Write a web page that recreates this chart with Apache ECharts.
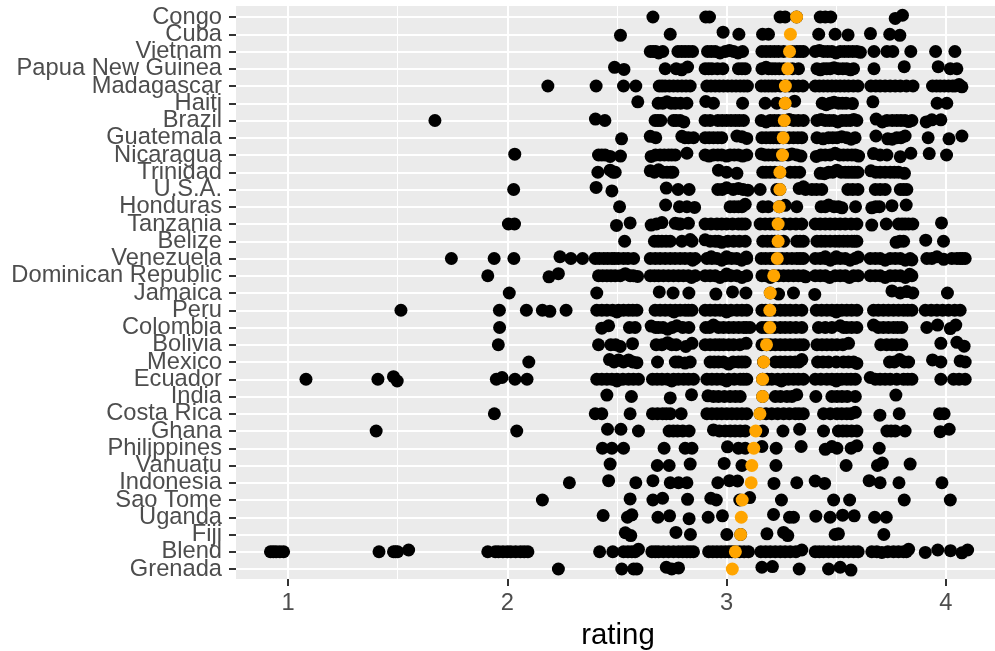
<!DOCTYPE html>
<html><head><meta charset="utf-8">
<style>html,body{margin:0;padding:0;background:#fff}#c{width:995px;height:651px}</style>
<script src="https://cdn.jsdelivr.net/npm/echarts@6/dist/echarts.min.js"></script>
</head><body><div id="c"></div>
<script>
const countries = ["Congo","Cuba","Vietnam","Papua New Guinea","Madagascar","Haiti","Brazil","Guatemala","Nicaragua","Trinidad","U.S.A.","Honduras","Tanzania","Belize","Venezuela","Dominican Republic","Jamaica","Peru","Colombia","Bolivia","Mexico","Ecuador","India","Costa Rica","Ghana","Philippines","Vanuatu","Indonesia","Sao Tome","Uganda","Fiji","Blend","Grenada"];
const xTickLabels = [1,2,3,4];
const xMinorTicks = [1.5,2.5,3.5];
const evenRows = [0,2,4,6,8,10,12,14,16,18,20,22,24,26,28,30,32];
const oddRows = [1,3,5,7,9,11,13,15,17,19,21,23,25,27,29,31];
const meanRating = [3.319,3.291,3.287,3.279,3.268,3.267,3.263,3.258,3.255,3.243,3.243,3.24,3.235,3.235,3.231,3.215,3.199,3.197,3.197,3.182,3.169,3.164,3.164,3.152,3.133,3.124,3.115,3.112,3.071,3.067,3.064,3.04,3.026];
// Each entry: rating, or [rating, vertical jitter in rows]
const congo = [2.664,2.905,2.922,3.244,3.267,3.319,3.427,3.45,3.475,[3.769,.08],[3.802,-.1]];
const cuba = [[2.516,.06],2.743,[2.984,-.12],3.056,3.164,3.191,3.42,3.495,[3.554,.04],[3.656,-.04],3.744,[3.79,.06]];
const vietnam = [2.652,2.677,2.709,2.778,2.811,2.845,2.913,2.948,2.994,3.032,3.073,3.161,3.199,3.237,3.32,3.35,3.404,3.442,3.48,3.518,3.556,3.594,3.672,3.731,3.758,3.84,3.953,4.041,
  2.665,[2.69,.08],2.795,2.828,2.93,[2.97,.08],[3.013,-.06],[3.052,.08],3.18,3.218,3.26,3.3,3.335,[3.423,-.06],3.461,[3.499,.08],3.537,3.575,[3.61,.05]];
const png = [[2.489,-.08],[2.532,.04],2.72,2.77,[2.822,-.1],2.902,2.933,2.983,3.054,3.085,3.161,3.191,3.222,3.328,3.412,3.442,3.472,3.51,3.548,3.579,3.672,[3.81,-.12],[3.965,-.12],4.02,4.05,
  [2.795,.06],2.918,2.958,3.07,[3.18,-.08],3.207,3.24,3.26,3.3,[3.427,.06],3.457,[3.49,-.06],3.53,[3.565,.06]];
const madagascar = [2.185,2.405,2.53,2.586,2.693,2.72,2.758,2.796,2.834,2.91,2.948,2.986,3.024,3.062,3.095,3.158,3.191,3.222,3.267,3.305,3.348,3.404,3.442,3.48,3.518,3.556,3.599,3.658,3.7,3.746,3.792,3.85,3.939,3.974,4.012,4.042,[4.073,.05],
  2.706,2.739,2.777,2.815,2.929,2.967,3.005,3.043,3.079,3.175,3.207,3.245,3.286,3.327,3.423,3.461,3.499,3.537,3.578,3.68,3.723,3.769,3.82,3.957,3.993,4.03,[4.06,-.08]];
const haiti = [[2.595,-.08],2.688,[2.728,-.08],2.766,2.819,[2.905,-.1],2.94,3.073,3.176,3.229,3.267,[3.31,-.12],3.436,3.472,3.51,3.545,[3.574,.02],[3.667,-.08],3.96,4.004,
  2.709,2.747,2.79,[3.454,.08],[3.49,-.06],3.528];
const brazil = [[2.402,-.08],2.445,2.674,2.7,2.758,2.788,[2.805,.08],2.902,2.96,3,3.04,3.077,3.158,3.199,3.237,3.263,3.305,3.35,3.412,3.45,3.488,3.526,3.564,3.594,[3.682,-.08],3.731,3.776,3.814,3.845,[3.91,.08],[3.936,-.04],[3.977,-.04],1.67,
  2.687,2.77,2.925,2.98,3.02,3.058,[3.18,.08],3.218,[3.285,-.06],3.327,[3.431,-.06],3.469,[3.507,.08],3.545,[3.58,-.06],[3.71,.08],3.755,3.795,[3.83,.06]];
const guatemala = [[2.521,.06],[2.652,-.08],2.677,[2.796,-.08],2.826,2.849,2.902,2.94,2.978,[3.047,-.1],[3.092,.04],3.161,3.199,3.229,3.258,3.305,3.343,3.412,3.465,3.503,3.548,3.586,[3.681,-.1],[3.735,.06],3.776,[3.814,-.1],3.919,[4.014,.06],[4.073,-.1],
  2.81,2.921,2.96,[3.07,-.06],3.18,3.214,3.24,3.285,3.325,[3.44,.06],3.484,[3.525,-.06],[3.568,.08],[3.755,.08],3.795];
const nicaragua = [[2.034,-.05],2.416,2.446,[2.469,.08],[2.516,.06],[2.656,.08],2.697,2.735,2.766,[2.819,-.1],2.902,2.94,2.978,3.016,3.054,3.092,[3.158,-.06],3.191,3.229,3.255,[3.298,-.06],[3.339,.06],[3.409,.08],3.45,[3.495,-.1],3.533,3.571,[3.602,.06],[3.67,-.08],3.731,[3.792,.1],[3.84,-.1],[3.924,-.08],4.003,
  2.431,2.676,2.716,2.75,[2.92,.06],2.96,[3,.06],3.035,[3.073,.06],3.175,3.21,3.242,3.28,3.32,3.43,3.472,3.515,3.552,3.587,3.7];
const trinidad = [2.413,[2.469,-.12],2.492,[2.652,-.08],[2.69,-.14],2.728,2.755,[2.963,-.12],3,[3.047,.06],3.165,3.199,3.243,3.29,3.333,[3.427,.06],3.465,[3.503,-.12],3.541,3.571,3.599,[3.658,-.08],3.7,3.746,3.784,[3.811,.06],
  2.482,2.671,2.71,2.745,3.18,3.22,3.312,[3.446,.08],3.484,3.522,3.556,3.585,3.68,3.723,3.765];
const usa = [[2.405,-.12],[2.477,.08],[2.725,-.08],2.779,2.829,2.96,[3,-.1],[3.054,-.06],[3.097,.04],3.153,3.229,3.243,[3.331,-.06],[3.35,-.16],3.389,3.434,3.553,3.599,3.678,3.723,3.792,3.822,2.029,
  2.98,3.03,3.075,3.36,3.41,3.575,3.7,3.807];
const honduras = [2.512,[2.722,-.1],2.785,2.819,[2.854,.04],3.016,3.054,[3.085,-.14],3.165,3.19,3.24,[3.267,-.08],3.32,3.431,[3.465,-.1],3.51,[3.526,.06],3.588,[3.662,.06],3.697,[3.754,-.06],[3.819,-.1],
  3.035,3.07,3.45,3.49,3.68];
const tanzania = [2.005,2.033,[2.498,.08],[2.56,-.06],[2.656,.06],[2.705,-.08],[2.766,-.04],2.781,[2.826,-.04],2.902,2.956,3,3.054,3.085,3.153,3.199,3.235,3.29,3.343,3.404,3.45,3.495,3.541,3.594,[3.662,.06],3.728,3.784,3.814,3.849,[3.98,-.06],
  2.68,2.79,2.929,2.978,3.027,3.07,3.176,3.217,3.262,3.316,3.427,3.472,3.518,3.568,3.8,3.83];
const belize = [2.535,2.671,2.705,2.743,2.796,[2.834,-.1],2.842,[2.902,-.08],2.948,[2.978,.06],3.032,3.085,3.165,3.206,3.235,3.26,3.32,3.35,3.412,3.45,3.495,3.533,3.571,3.594,[3.773,.06],3.807,[3.908,-.06],3.989,
  2.688,2.724,2.925,2.963,3.005,3.058,3.186,3.22,3.335,3.431,3.472,3.514,3.552,3.583,3.79];
const venezuela = [1.745,1.94,2.03,[2.24,-.1],2.29,2.343,2.401,2.44,2.477,2.507,2.576,2.652,2.697,2.743,2.788,2.834,2.857,2.91,2.956,3,3.046,3.092,3.158,3.199,3.231,3.275,3.32,3.35,3.404,3.45,3.495,3.541,3.586,3.655,3.7,3.746,3.792,3.837,3.913,[3.959,-.1],4.027,4.065,4.088,
  2.42,2.458,2.49,2.53,2.55,2.675,2.72,2.765,2.81,[2.845,.1],2.933,[2.978,.1],3.023,[3.069,.1],[3.09,-.08],3.178,3.215,3.253,3.298,3.335,3.427,[3.473,.1],3.518,[3.563,.1],[3.6,-.08],3.678,[3.723,.1],3.769,[3.815,.1],[3.845,.08],3.936,[3.99,.05],4.05,4.075,[2.93,-.1],[3.0,-.1],[3.5,-.1],[3.45,-.1]];
const dominicanRepublic = [1.911,[2.19,.06],[2.233,-.12],2.416,2.454,2.492,[2.538,-.12],2.56,[2.594,.04],2.652,2.69,2.735,2.781,2.826,2.857,2.902,2.948,2.994,3.047,3.092,3.161,3.215,3.26,3.305,3.35,3.404,3.45,3.495,3.541,3.579,3.655,3.7,3.746,3.792,3.845,
  2.435,2.473,2.515,2.575,2.671,2.712,2.758,2.803,[2.84,.1],2.925,[2.97,.1],3.02,[3.07,.1],[3.0,-.1],3.18,[3.2,.1],3.237,3.282,3.327,[3.36,.06],3.427,[3.47,.1],3.518,[3.56,.1],3.6,3.678,[3.723,.1],3.769,[3.815,.1],[3.835,-.08]];
const jamaica = [2.009,2.408,[2.693,-.06],2.756,2.828,[2.951,.06],[3.027,-.06],3.088,3.199,[3.237,.06],3.305,[3.402,.08],[3.754,-.12],3.792,[3.822,-.08],3.849,4.007];
const peru = [1.515,1.964,2.087,2.16,[2.194,.06],2.268,2.408,2.454,2.507,2.553,2.591,2.674,2.72,2.766,2.811,2.842,2.902,2.948,2.994,3.047,3.092,3.161,3.197,3.245,3.29,3.343,3.409,3.457,3.503,3.548,3.594,3.67,3.715,3.761,3.807,3.845,3.906,3.959,4.012,4.065,
  2.431,2.48,2.53,2.572,2.697,2.743,2.788,2.826,2.925,2.97,3.02,3.07,3.178,3.22,3.267,3.316,3.433,3.48,3.525,3.57,3.692,3.738,3.784,3.826,3.933,3.985,4.04,[2.5,.1],[2.76,.1],[3.0,.1],[3.5,.1]];
const colombia = [1.965,[2.431,.04],[2.462,-.1],2.557,2.583,[2.656,-.08],2.69,[2.731,.1],[2.773,-.1],2.828,2.905,[2.94,-.14],2.986,3.032,3.077,3.107,3.161,3.197,3.245,3.29,3.343,3.419,3.48,[3.518,-.1],3.548,3.594,[3.67,-.14],3.715,3.761,3.799,3.913,[3.962,-.14],[4.02,.06],[4.045,-.14],
  2.676,2.71,2.752,2.8,2.923,2.963,3.01,3.055,3.09,3.178,3.22,3.267,3.316,3.45,3.533,3.57,3.692,3.738,3.78];
const bolivia = [2.416,2.472,[2.515,.1],[2.571,-.06],2.679,[2.731,-.12],2.77,[2.814,.1],[2.842,-.08],2.902,2.948,2.986,3.032,[3.089,-.08],3.161,3.182,3.222,3.267,3.313,3.351,3.412,3.457,3.503,[3.556,-.08],3.703,3.754,3.799,[3.977,-.08],[4.05,-.14],[4.083,.08],1.959,
  2.494,2.705,2.75,2.925,2.967,3.01,3.06,3.2,3.245,3.29,3.333,3.435,3.48,3.53,3.73,3.775];
const mexico = [2.098,[2.466,-.14],[2.507,-.12],[2.553,-.12],[2.591,.04],2.685,2.766,2.781,2.834,2.925,2.963,[3.009,.12],3.054,3.085,3.168,3.222,3.267,3.313,[3.343,-.14],3.415,3.465,3.533,3.579,[3.594,.08],3.743,[3.789,-.14],3.83,[3.939,-.12],3.977,[4.065,-.06],4.088,
  2.487,2.53,2.572,[2.81,.06],2.944,2.986,3.03,3.07,3.245,3.29,3.33,3.44,3.5,3.556,3.765,3.81];
const ecuador = [1.082,1.41,[1.481,-.15],[1.498,.1],1.95,[1.976,-.1],2.035,2.09,2.408,2.454,2.5,2.553,2.598,2.662,2.705,2.758,2.804,2.849,2.91,2.956,3.009,3.062,3.092,3.164,3.206,3.26,3.305,3.35,3.404,3.457,3.503,3.548,3.587,[3.655,-.1],3.7,3.746,3.807,3.845,3.977,4.035,4.088,
  2.431,2.477,2.527,2.575,2.683,2.73,2.78,2.826,2.933,2.98,3.035,3.077,3.185,3.233,3.282,3.327,3.43,3.48,3.525,3.567,3.678,3.723,3.776,3.826,4.06,[2.5,.1],[2.75,.1],[3.0,.1],[3.25,.1],[3.5,.1]];
const india = [[2.454,-.08],2.566,[2.743,.08],[2.84,-.1],[2.915,-.04],2.963,3.016,3.062,3.164,3.222,3.275,[3.32,-.1],3.407,3.48,3.526,3.587,[3.772,-.08],
  2.94,2.99,3.04,3.246,3.298,3.503,3.55];
const costaRica = [1.941,2.401,2.431,2.56,2.662,2.708,2.743,2.793,2.91,2.956,3.001,3.047,3.092,3.152,3.206,3.26,3.313,3.35,3.442,3.503,3.548,[3.587,-.08],[3.699,.08],3.787,3.971,3.992,
  2.933,2.978,3.024,3.07,3.18,3.233,3.286,3.33,3.473,3.525,3.567,2.685,2.725];
const ghana = [1.402,2.043,[2.457,-.1],[2.518,-.1],2.598,2.738,2.776,2.829,[2.94,-.06],2.994,3.039,3.085,3.164,3.257,[3.333,-.1],3.442,3.51,3.548,3.594,3.731,3.769,3.814,[3.974,.04],[4.015,-.1],
  2.757,2.8,2.967,3.017,3.062,3.53,3.57,3.75];
const philippines = [2.434,2.477,2.53,2.715,2.811,2.842,[3.004,-.08],3.054,3.085,[3.161,-.1],3.226,[3.34,-.1],[3.45,.06],[3.48,-.1],3.503,3.568,[3.594,-.14],3.696];
const vanuatu = [[2.469,-.08],2.684,2.738,[2.834,-.08],[2.989,-.12],3.07,3.225,3.545,3.688,[3.71,-.14],[3.837,-.08]];
const indonesia = [2.283,[2.462,-.12],2.586,[2.664,-.12],2.743,2.781,2.819,2.96,[3.013,-.12],[3.05,-.1],[3.216,.04],3.32,[3.404,-.1],[3.447,.04],[3.65,-.12],3.7,3.786,3.982];
const saoTome = [2.16,[2.56,-.06],2.664,[2.708,-.1],[2.822,-.04],[2.928,-.1],2.953,3.06,[3.105,-.14],3.25,3.488,3.561,3.81,4.02];
const uganda = [[2.437,-.1],2.548,[2.568,-.14],2.687,[2.74,-.08],[2.829,.08],2.916,[2.981,-.08],[3.214,-.16],3.287,3.305,[3.407,-.06],3.472,[3.529,-.12],[3.582,-.08],3.675,3.728];
const fiji = [[2.538,-.1],[2.563,.06],[2.769,-.12],2.835,3.001,3.064,[3.184,-.04],[3.26,-.12],[3.279,.06],3.495,[3.51,-.04],3.717];
const blend = [.92,.946,.98,1.415,1.481,1.5,[1.55,-.1],1.911,1.945,1.98,2.016,2.06,2.094,2.421,2.481,2.53,2.568,[2.598,-.14],2.659,2.69,2.735,2.781,2.819,2.849,2.918,2.956,2.994,3.024,3.039,3.1,3.156,3.199,3.245,3.29,[3.343,-.1],3.404,3.442,3.488,3.533,3.579,3.662,[3.708,.04],3.761,3.807,[3.83,-.14],[3.906,.04],[3.963,-.1],[4.021,-.06],[4.073,.06],[4.099,-.1],
  .933,.963,1.49,1.96,2.0,2.038,2.077,2.55,2.583,2.675,2.712,2.758,2.8,2.834,2.937,2.975,3.01,3.06,3.08,3.178,3.222,3.267,3.316,3.423,3.465,3.51,3.556,3.6,3.685,3.735,3.784,3.82];
const grenada = [2.233,2.522,2.576,2.591,[2.725,-.1],2.75,[2.781,-.06],[3.161,-.1],[3.209,-.14],3.331,3.465,[3.518,-.1],[3.567,.06]];
const ratingsByCountry = [congo,cuba,vietnam,png,madagascar,haiti,brazil,guatemala,nicaragua,trinidad,usa,honduras,tanzania,belize,venezuela,dominicanRepublic,jamaica,peru,colombia,bolivia,mexico,ecuador,india,costaRica,ghana,philippines,vanuatu,indonesia,saoTome,uganda,fiji,blend,grenada];

const blackPts = [];
ratingsByCountry.forEach((row, i) => row.forEach(p => {
  if (Array.isArray(p)) blackPts.push([p[0], i + p[1]]); else blackPts.push([p, i]);
}));
const orangePts = meanRating.map((v, i) => [v, i]);

const L = 236, R = 1000, X1 = 288, PX = 219.3;
const xMin = 1 - (X1 - L) / PX, xMax = 1 + (R - X1) / PX;
const FONT = '"Liberation Sans", Arial, sans-serif';
const rowLabel = rows => ({show: true, showMinLabel: true, showMaxLabel: true, color: '#4D4D4D', fontSize: 23.7, fontFamily: FONT, margin: 14, padding: [4, 0, 0, 0], customValues: rows, formatter: v => countries[v] || ''});
const chart = echarts.init(document.getElementById('c'), null, {renderer: 'canvas'});
chart.setOption({
  animation: false,
  backgroundColor: '#fff',
  grid: [
    {left: L, top: 6, width: R - L, height: 573, show: true, backgroundColor: '#EBEBEB', borderWidth: 0, outerBoundsMode: 'none'},
    {left: L, top: 17, width: R - L, height: 552, outerBoundsMode: 'none'}
  ],
  xAxis: [
    {type: 'value', gridIndex: 0, min: xMin, max: xMax, position: 'bottom',
     name: 'rating', nameLocation: 'middle', nameGap: 42,
     nameTextStyle: {color: '#000', fontSize: 29.4, fontFamily: FONT},
     axisLine: {show: false},
     axisTick: {show: true, length: 7, lineStyle: {color: '#333', width: 2}, customValues: xTickLabels},
     axisLabel: {show: true, color: '#4D4D4D', fontSize: 23.7, fontFamily: FONT, margin: 12, customValues: xTickLabels, formatter: v => String(v)},
     splitLine: {show: true, lineStyle: {color: '#fff', width: 2}}},
    {type: 'value', gridIndex: 0, min: xMin, max: xMax, position: 'top',
     axisLine: {show: false}, axisTick: {show: false, customValues: xMinorTicks},
     axisLabel: {show: false, customValues: xMinorTicks},
     splitLine: {show: true, lineStyle: {color: '#fff', width: 1}}},
    {type: 'value', gridIndex: 1, min: xMin, max: xMax, show: false, splitLine: {show: false}}
  ],
  yAxis: [
    {type: 'value', gridIndex: 0, min: 0, max: 1, show: false, splitLine: {show: false}},
    {type: 'value', gridIndex: 1, min: 0, max: 32, interval: 1, inverse: true, position: 'left',
     axisLine: {show: false},
     axisTick: {show: true, length: 7, lineStyle: {color: '#333', width: 2}},
     axisLabel: rowLabel(evenRows),
     splitLine: {show: true, showMinLine: true, showMaxLine: true, lineStyle: {color: '#fff', width: 2}}},
    {type: 'value', gridIndex: 1, min: 0, max: 32, interval: 1, inverse: true, position: 'left', offset: 0,
     axisLine: {show: false},
     axisTick: {show: false},
     axisLabel: rowLabel(oddRows),
     splitLine: {show: false}}
  ],
  series: [
    {type: 'scatter', name: 'rating', xAxisIndex: 2, yAxisIndex: 1, data: blackPts, symbolSize: 13, clip: false, silent: true,
     itemStyle: {color: '#000', opacity: 1}, z: 3},
    {type: 'scatter', name: 'mean', xAxisIndex: 2, yAxisIndex: 1, data: orangePts, symbolSize: 13, clip: false, silent: true,
     itemStyle: {color: '#FFA500', opacity: 1}, z: 4}
  ]
});
</script></body></html>
